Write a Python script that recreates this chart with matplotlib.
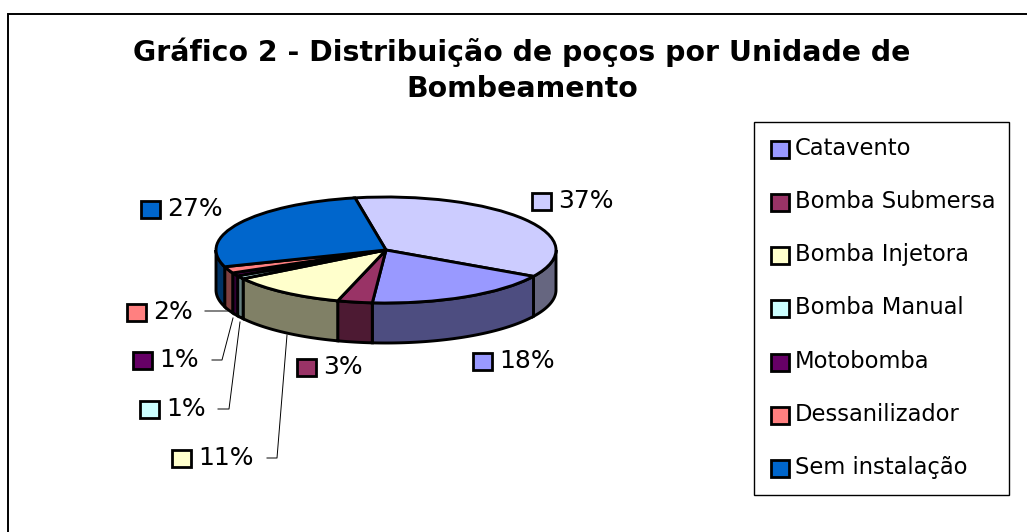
import numpy as np
import matplotlib
matplotlib.use('Agg')
import matplotlib.pyplot as plt
from matplotlib.patches import Rectangle

linha1 = 'Gráfico 2 - Distribuição de poços por Unidade de'
linha2 = 'Bombeamento'
nomes = ['Catavento', 'Bomba Submersa', 'Bomba Injetora', 'Bomba Manual',
         'Motobomba', 'Dessanilizador', 'Sem instalação']
# order around the pie, clockwise from the top
rotulos = [37, 18, 3, 11, 1, 1, 2, 27]
# slice sizes as measured on the picture (3d view squeezes them a little)
fatias = [36.2, 18.0, 3.3, 11.3, 1.0, 1.0, 2.0, 27.2]
cores = ['#CCCCFF', '#9999FF', '#993366', '#FFFFCC', '#CCFFFF', '#660066', '#FF8080', '#0066CC']
rot_x = [532, 473, 297, 172, 140, 133, 127, 141]
rot_y = [201, 361, 367, 458, 409, 360, 312, 209]

W, H = 1027, 532
fig = plt.figure(figsize=(W / 100, H / 100), dpi=100)

# overlay in pixels for frame, labels, legend
bg = fig.add_axes([0, 0, 1, 1])
bg.set_xlim(0, W)
bg.set_ylim(H, 0)
bg.axis('off')
bg.add_patch(Rectangle((8, 14), 1040, 540, fc='white', ec='black', lw=1.4))

bg.text(522, 52, linha1, ha='center', va='center', fontsize=20.4, fontweight='bold')
bg.text(522, 89, linha2, ha='center', va='center', fontsize=20.4, fontweight='bold')

# pie axes: centre (386, 250), rx 170, ry 53 px, 40 px of depth
cx, cy, rx, ry, prof = 386, 250, 170, 53, 40
ax = fig.add_axes([(cx - 1.1 * rx) / W, 1 - (cy + 2 * ry) / H, 2.2 * rx / W, 3 * ry / H])
ax.patch.set_alpha(0)
wedges, _ = ax.pie(fatias, colors=cores, startangle=100.5, counterclock=False, radius=1,
                   normalize=True,
                   wedgeprops={'edgecolor': 'black', 'linewidth': 2.1, 'zorder': 3})
ax.set_aspect('auto')
ax.set_xlim(-1.1, 1.1)
ax.set_ylim(-2, 1)
d = prof / ry

# side walls, only the front half of the ellipse shows
ini = 100.5
for v, c in zip(fatias, cores):
    fim = ini - v * 3.6
    a1, a2 = np.mod(ini, 360), np.mod(fim, 360)
    if a1 < a2:
        a1 += 360
    if a1 > 180 and a2 < 360:
        t = np.radians(np.linspace(max(a2, 180), min(a1, 360), 60))
        x = np.cos(t)
        y = np.sin(t)
        rgb = np.array(matplotlib.colors.to_rgb(c)) * 0.5
        ax.fill(np.r_[x, x[::-1]], np.r_[y, y[::-1] - d], fc=rgb, ec='black', lw=2.1, zorder=2)
    ini = fim

# data labels
for v, c, x, y in zip(rotulos, cores, rot_x, rot_y):
    bg.add_patch(Rectangle((x, y - 8), 19, 17, fc=c, ec='black', lw=2))
    bg.text(x + 26, y, f'{v}%', va='center', ha='left', fontsize=18)

# leader lines
bg.plot([205, 228, 231], [311, 311, 310], color='black', lw=0.7)
bg.plot([212, 222, 233], [360, 360, 318], color='black', lw=0.7)
bg.plot([218, 229, 240], [409, 409, 322], color='black', lw=0.7)
bg.plot([267, 277, 287], [458, 458, 335], color='black', lw=0.7)

# legend
bg.add_patch(Rectangle((754, 122), 255, 373, fc='white', ec='black', lw=1.0, zorder=5))
leg_y = [148.5, 201.5, 254.5, 307.5, 361.5, 414.5, 467.5]
for n, c, y in zip(nomes, cores[1:], leg_y):
    bg.add_patch(Rectangle((771, y - 8), 18, 17, fc=c, ec='black', lw=2, zorder=6))
    bg.text(795, y, n, va='center', ha='left', fontsize=16.3, zorder=6)

fig.savefig('out.png', dpi=100)
